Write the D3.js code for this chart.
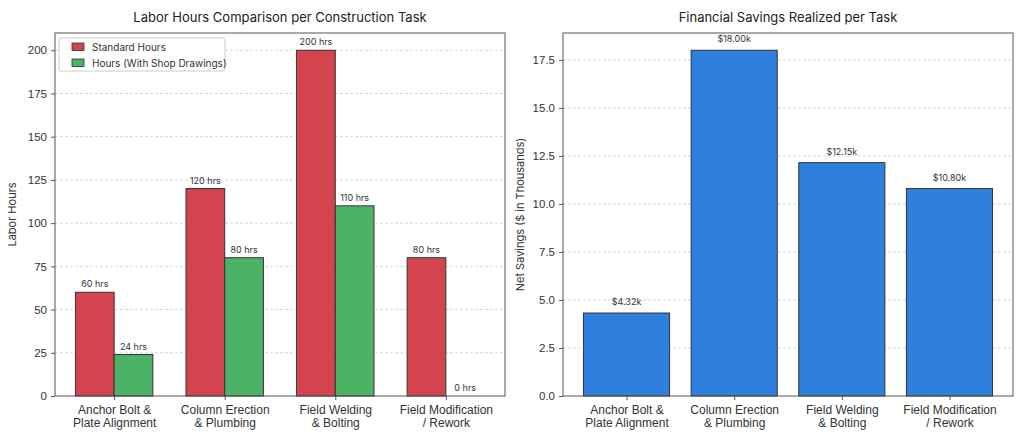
<!DOCTYPE html>
<html>
<head>
<meta charset="utf-8">
<script src="https://cdn.jsdelivr.net/npm/d3@7"></script>
<style>
    body { margin:0; background:#fff; }
    svg { font-family: Inter, "Open Sans", sans-serif; }
    .grid line { stroke:#ccc; stroke-dasharray:3,2; stroke-width:0.8; }
    .tick text { fill:#333; font-size:11.5px; }
    .lbl { fill:#333; font-size:9px; text-anchor:middle; }
</style>
</head>
<body>
<svg id="chart" width="1024" height="439"></svg>
<script>
    var tasks = [['Anchor Bolt &','Plate Alignment'], ['Column Erection','& Plumbing'],
                 ['Field Welding','& Bolting'], ['Field Modification','/ Rework']];
    var standardHours = [60, 120, 200, 80];
    var shopHours = [24, 80, 110, 0];
    var savings = [4.32, 18.00, 12.15, 10.80];
    var hoursTicks = [0, 25, 50, 75, 100, 125, 150, 175, 200];
    var savingsTicks = [0, 2.5, 5, 7.5, 10, 12.5, 15, 17.5];

    var RED = '#d4444f', GREEN = '#4bb266', BLUE = '#2f7fde';

    var svg = d3.select('#chart');

    function panel(left, right, top, bottom, xdom, ydom, ticks, fmt, title, ylab) {
        var x = d3.scaleLinear().domain(xdom).range([left, right]),
            y = d3.scaleLinear().domain(ydom).range([bottom, top]);

        var g = svg.append('g');

        g.append('g')
            .attr('class','grid')
            .selectAll('line')
            .data(ticks.filter(function(d){ return d > 0; })).enter()
                .append('line')
                .attr('x1', left).attr('x2', right)
                .attr('y1', y).attr('y2', y);

        g.append('text')
            .attr('x', (left + right) / 2)
            .attr('y', 22)
            .attr('text-anchor','middle')
            .style('font-size','13px')
            .style('fill','#222')
            .text(title);

        g.append('text')
            .attr('transform','translate('+ [left - 39, (top + bottom) / 2] +') rotate(-90)')
            .attr('text-anchor','middle')
            .style('font-size','11px')
            .style('fill','#333')
            .text(ylab);

        var yAxis = g.append('g')
            .attr('transform','translate('+ left +',0)')
            .call(d3.axisLeft(y).tickValues(ticks).tickFormat(fmt).tickSize(4).tickPadding(4));
        yAxis.select('.domain').remove();
        yAxis.selectAll('.tick line').attr('stroke','#555');

        var xAxis = g.append('g')
            .attr('transform','translate(0,'+ bottom +')')
            .call(d3.axisBottom(x).tickValues([0,1,2,3]).tickFormat('').tickSize(4));
        xAxis.select('.domain').remove();
        xAxis.selectAll('.tick line').attr('stroke','#555');

        xAxis.selectAll('.tick').append('text')
            .attr('text-anchor','middle')
            .attr('fill','#333')
            .style('font-size','12px')
            .selectAll('tspan')
            .data(function(d){ return tasks[d]; }).enter()
                .append('tspan')
                .attr('x', 0)
                .attr('y', function(d,i){ return 18 + i * 13; })
                .text(function(d){ return d; });

        return { g:g, x:x, y:y, box:[left, right, top, bottom] };
    }

    function frame(p) {
        var b = p.box;
        p.g.append('rect')
            .attr('x', b[0]).attr('y', b[2])
            .attr('width', b[1] - b[0]).attr('height', b[3] - b[2])
            .attr('fill','none')
            .attr('stroke','#555')
            .attr('stroke-width', 1);
    }

    /******************************************************************
        left: labor hours
     ******************************************************************/
    var L = panel(55, 505, 33, 396, [-0.535, 3.535], [0, 210], hoursTicks, d3.format('d'),
                  'Labor Hours Comparison per Construction Task', 'Labor Hours');
    var bw = 0.35;

    [[standardHours, RED, -bw/2], [shopHours, GREEN, bw/2]].forEach(function(s) {
        L.g.append('g').selectAll('rect')
            .data(s[0]).enter()
                .append('rect')
                .attr('x', function(d,i){ return L.x(i + s[2] - bw/2); })
                .attr('width', L.x(bw) - L.x(0))
                .attr('y', function(d){ return L.y(d); })
                .attr('height', function(d){ return L.y(0) - L.y(d); })
                .attr('fill', s[1])
                .attr('stroke','#333')
                .attr('stroke-width', 1);

        L.g.append('g').selectAll('text')
            .data(s[0]).enter()
                .append('text')
                .attr('class','lbl')
                .attr('x', function(d,i){ return L.x(i + s[2]); })
                .attr('y', function(d){ return L.y(d) - 5; })
                .text(function(d){ return d + ' hrs'; });
    });
    frame(L);

    var leg = L.g.append('g').attr('transform','translate(59,38)');
    leg.append('rect')
        .attr('width', 166).attr('height', 33).attr('rx', 2)
        .attr('fill','#fff').attr('fill-opacity', 0.8)
        .attr('stroke','#ccc');
    leg.selectAll('g')
        .data([['Standard Hours', RED], ['Hours (With Shop Drawings)', GREEN]]).enter()
            .append('g')
            .attr('transform', function(d,i){ return 'translate(13,'+ (5 + i * 16) +')'; })
            .each(function(d) {
                var e = d3.select(this);
                e.append('rect').attr('width', 12).attr('height', 7.5)
                    .attr('fill', d[1]).attr('stroke','#333').attr('stroke-width', 0.8);
                e.append('text').attr('x', 20).attr('y', 7.5)
                    .style('font-size','10px').style('fill','#333').text(d[0]);
            });

    /******************************************************************
        right: savings
     ******************************************************************/
    var R = panel(563, 1013, 33, 396, [-0.59, 3.59], [0, 18.9], savingsTicks, d3.format('.1f'),
                  'Financial Savings Realized per Task', 'Net Savings ($ in Thousands)');

    R.g.append('g').selectAll('rect')
        .data(savings).enter()
            .append('rect')
            .attr('x', function(d,i){ return R.x(i - 0.4); })
            .attr('width', R.x(0.8) - R.x(0))
            .attr('y', function(d){ return R.y(d); })
            .attr('height', function(d){ return R.y(0) - R.y(d); })
            .attr('fill', BLUE)
            .attr('stroke','#333')
            .attr('stroke-width', 1);

    R.g.append('g').selectAll('text')
        .data(savings).enter()
            .append('text')
            .attr('class','lbl')
            .attr('x', function(d,i){ return R.x(i); })
            .attr('y', function(d){ return R.y(d) - 8; })
            .text(function(d){ return '$' + d.toFixed(2) + 'k'; });
    frame(R);
</script>
</body>
</html>
